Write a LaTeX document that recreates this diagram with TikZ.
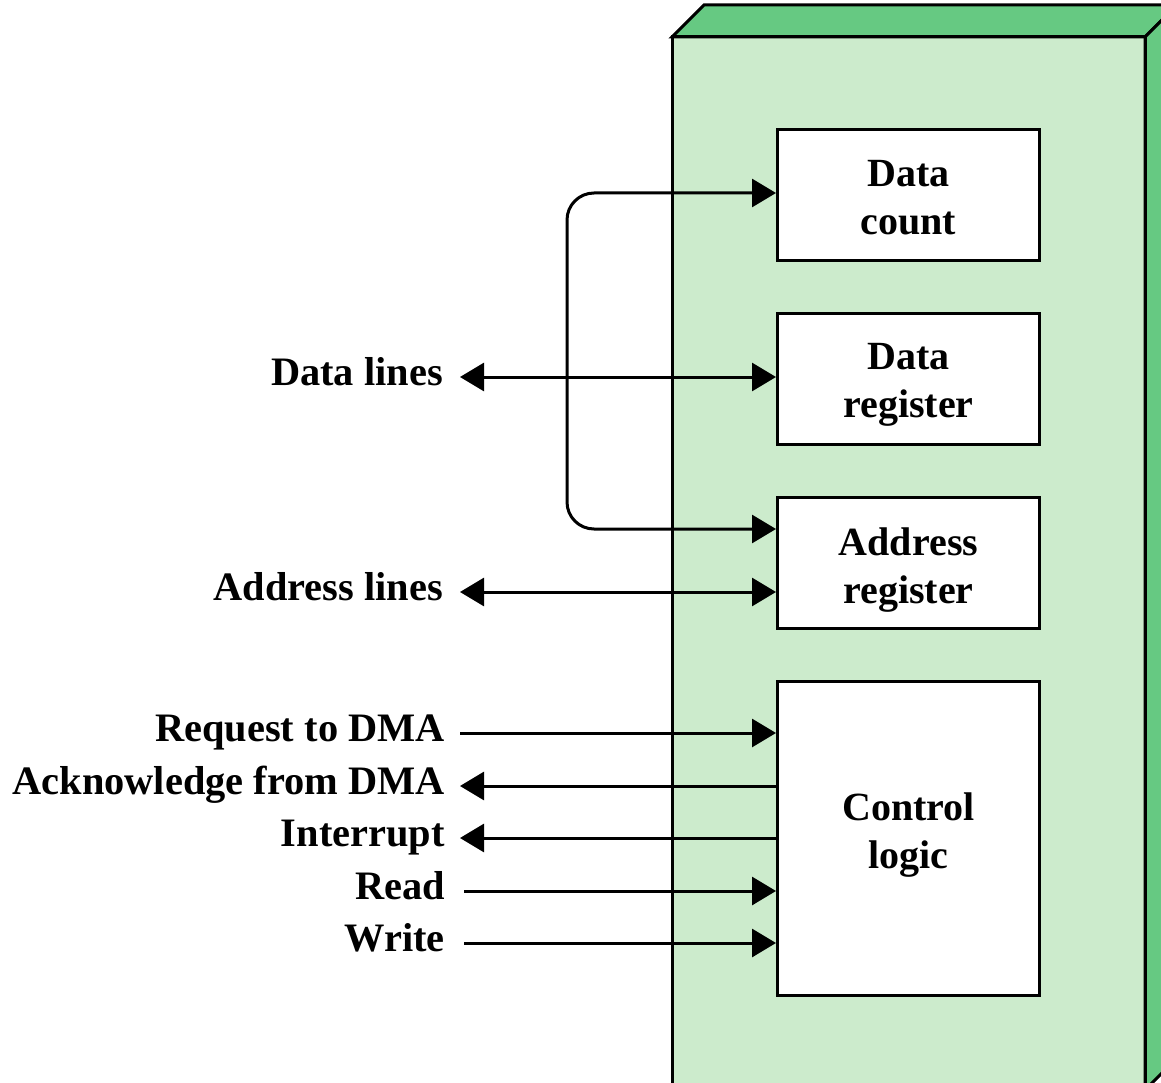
\documentclass[tikz,border=0pt]{standalone}
\usepackage{fontspec}
\setmainfont{Liberation Serif}
\usetikzlibrary{arrows.meta}
\definecolor{frontg}{HTML}{CCEBCC}
\definecolor{darkg}{HTML}{66C982}
\tikzset{
  wire/.style={line width=3pt},
  tip/.style={-{Triangle[length=24pt,width=28pt]}},
  tips/.style={{Triangle[length=24pt,width=28pt]}-{Triangle[length=24pt,width=28pt]}},
  reg/.style={draw, line width=3pt, fill=white, minimum width=262pt, inner sep=0pt},
  regtext/.style={inner sep=0pt, align=center, font=\bfseries\fontsize{40}{48}\selectfont},
  lbl/.style={anchor=base east, inner sep=0pt, font=\bfseries\fontsize{40.4}{48}\selectfont},
  face/.style={draw, line width=3pt, line join=miter}
}
\begin{document}
\begin{tikzpicture}[x=1pt,y=-1pt]
\useasboundingbox (0,0) rectangle (1161,1083);
\clip (0,0) rectangle (1161,1083);
% 3D box
\fill[frontg] (672,37) rectangle (1145,1090);
\draw[face, fill=darkg] (672,37) -- (704,5) -- (1177,5) -- (1145,37) -- cycle;
\draw[face, fill=darkg] (1145,37) -- (1177,5) -- (1177,1058) -- (1145,1090) -- cycle;
\draw[face] (672,1090) -- (672,37) -- (1145,37) -- (1145,1090);
% registers
\node[reg, minimum height=131pt] (dc) at (908.5,195) {};
\node[reg, minimum height=131pt] (dr) at (908.5,378.5) {};
\node[reg, minimum height=131pt] (ar) at (908.5,562.5) {};
\node[reg, minimum height=314pt] (cl) at (908.5,838.5) {};
\node[regtext] (dct) at (908.5,198) {Data\\count};
\node[regtext] (drt) at (908.5,385) {Data\\register};
\node[regtext] (art) at (908.5,570) {Address\\register};
\node[regtext] (clt) at (908.5,835) {Control\\logic};
% labels
\node[lbl] (ldl) at (443,385) {Data lines};
\node[lbl] (lal) at (443,600) {Address lines};
\node[lbl] (lrq) at (445,741) {Request to DMA};
\node[lbl] (lak) at (445,794) {Acknowledge from DMA};
\node[lbl] (lin) at (445,846) {Interrupt};
\node[lbl] (lrd) at (445,899) {Read};
\node[lbl] (lwr) at (445,951) {Write};
% connector ends
\coordinate (cdl) at (460,377);
\coordinate (cal) at (460,592);
\coordinate (crq) at (460,733);
\coordinate (cak) at (460,786);
\coordinate (cin) at (460,838);
\coordinate (crd) at (464,891);
\coordinate (cwr) at (464,943);
\coordinate (bus) at (567,193);
\coordinate (busb) at (567,529);
% connectors
\draw[wire, tips, rounded corners=27pt] (dc.west |- bus) -- (bus) -- (busb) -- (ar.west |- busb);
\draw[wire, tips] (cdl) -- (dr.west |- cdl);
\draw[wire, tips] (cal) -- (ar.west |- cal);
\draw[wire, tip] (crq) -- (cl.west |- crq);
\draw[wire, tip] (cl.west |- cak) -- (cak);
\draw[wire, tip] (cl.west |- cin) -- (cin);
\draw[wire, tip] (crd) -- (cl.west |- crd);
\draw[wire, tip] (cwr) -- (cl.west |- cwr);
\end{tikzpicture}
\end{document}
